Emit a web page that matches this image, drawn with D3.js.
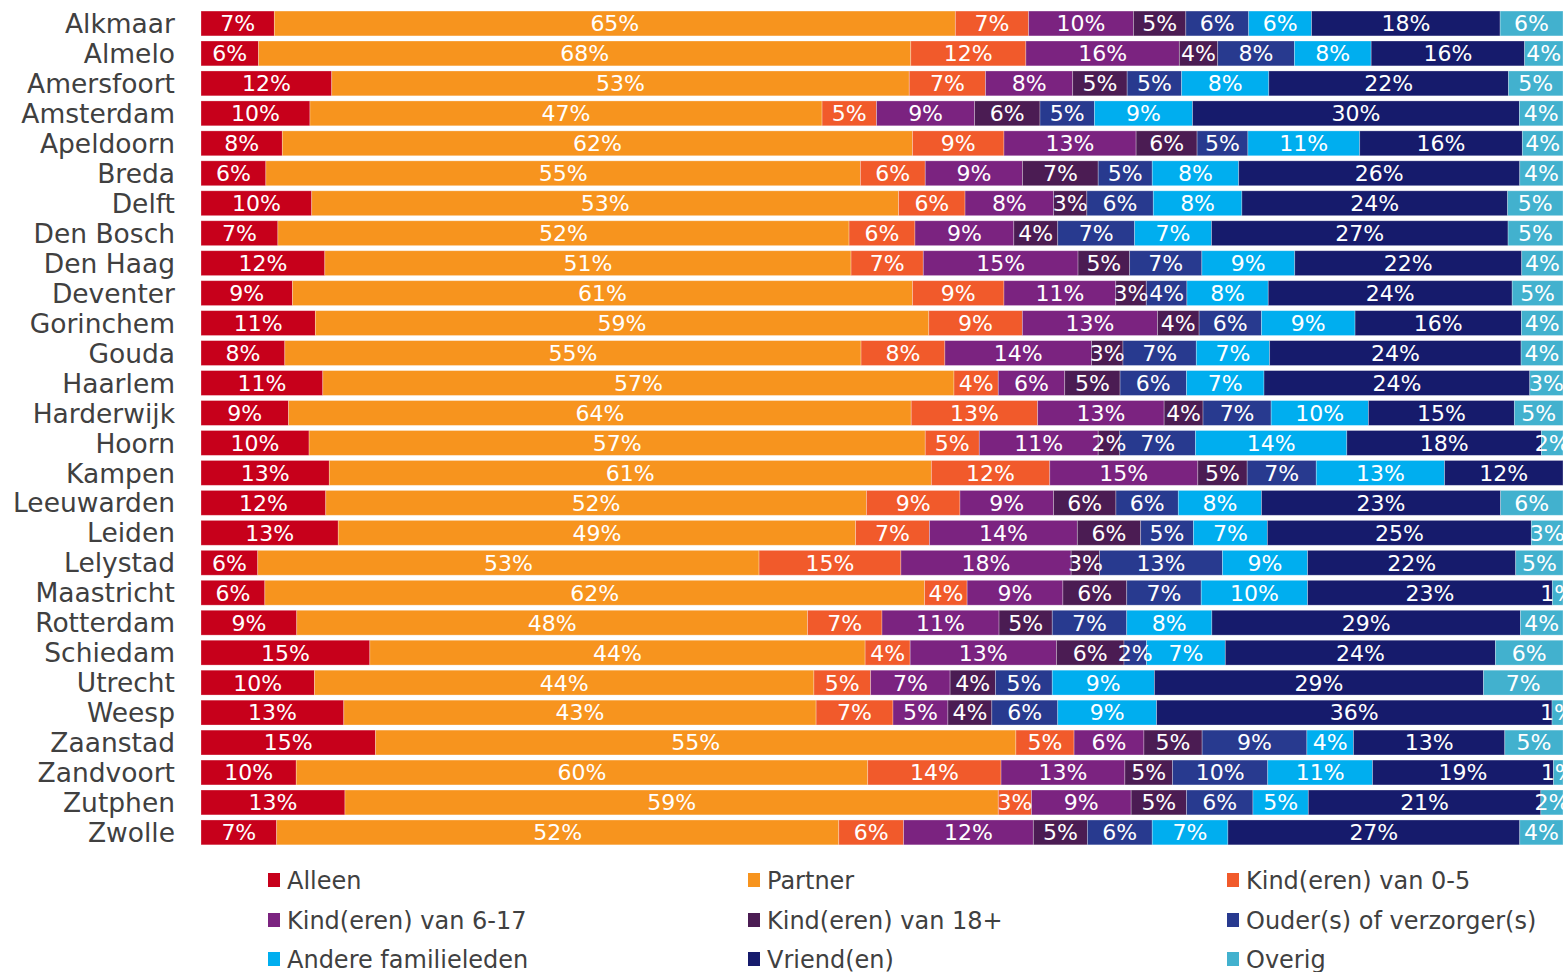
<!DOCTYPE html>
<html>
<head>
<meta charset="utf-8">
<script src="https://cdn.jsdelivr.net/npm/d3@7"></script>
<style>
  html, body { margin: 0; padding: 0; background: #fff; }
  svg { display: block; }
  text { font-family: "DejaVu Sans", Verdana, sans-serif; }
</style>
</head>
<body>
<svg id="chart" width="1563" height="972"></svg>
<script>
const cities = ["Alkmaar","Almelo","Amersfoort","Amsterdam","Apeldoorn","Breda","Delft","Den Bosch","Den Haag","Deventer","Gorinchem","Gouda","Haarlem","Harderwijk","Hoorn","Kampen","Leeuwarden","Leiden","Lelystad","Maastricht","Rotterdam","Schiedam","Utrecht","Weesp","Zaanstad","Zandvoort","Zutphen","Zwolle"];

const seriesNames = ["Alleen","Partner","Kind(eren) van 0-5","Kind(eren) van 6-17","Kind(eren) van 18+","Ouder(s) of verzorger(s)","Andere familieleden","Vriend(en)","Overig"];
const seriesColors = ["#c7001b","#f7941e","#f15a2b","#7b2380","#4b1c53","#283a8f","#00aeef","#161b6c","#42b1ce"];

const alleen   = [7,6,12,10,8,6,10,7,12,9,11,8,11,9,10,13,12,13,6,6,9,15,10,13,15,10,13,7];
const partner  = [65,68,53,47,62,55,53,52,51,61,59,55,57,64,57,61,52,49,53,62,48,44,44,43,55,60,59,52];
const kind05   = [7,12,7,5,9,6,6,6,7,9,9,8,4,13,5,12,9,7,15,4,7,4,5,7,5,14,3,6];
const kind617  = [10,16,8,9,13,9,8,9,15,11,13,14,6,13,11,15,9,14,18,9,11,13,7,5,6,13,9,12];
const kind18   = [5,4,5,6,6,7,3,4,5,3,4,3,5,4,2,5,6,6,3,6,5,6,4,4,5,5,5,5];
const ouder    = [6,8,5,5,5,5,6,7,7,4,6,7,6,7,7,7,6,5,13,7,7,2,5,6,9,10,6,6];
const andere   = [6,8,8,9,11,8,8,7,9,8,9,7,7,10,14,13,8,7,9,10,8,7,9,9,4,11,5,7];
const vriend   = [18,16,22,30,16,26,24,27,22,24,16,24,24,15,18,12,23,25,22,23,29,24,29,36,13,19,21,27];
const overig   = [6,4,5,4,4,4,5,5,4,5,4,4,3,5,2,0,6,3,5,1,4,6,7,1,5,1,2,4];

const seriesValues = [alleen, partner, kind05, kind617, kind18, ouder, andere, vriend, overig];

const rows = cities.map((c, i) => {
  const r = { city: c };
  seriesNames.forEach((s, j) => { r[s] = seriesValues[j][i]; });
  return r;
});

const svg = d3.select("#chart");

const x = d3.scaleLinear().domain([0, 1]).range([201, 1563]);
const y = d3.scaleBand().domain(cities).range([8.5, 847.4]).paddingInner(0.17).paddingOuter(0.085);
const color = d3.scaleOrdinal().domain(seriesNames).range(seriesColors);

const stack = d3.stack().keys(seriesNames).offset(d3.stackOffsetExpand);
const layers = stack(rows);

const g = svg.append("g");

const layerG = g.selectAll("g.layer").data(layers).join("g")
  .attr("class", "layer")
  .attr("fill", d => color(d.key));

layerG.selectAll("rect").data(d => d).join("rect")
  .attr("x", d => x(d[0]))
  .attr("y", d => y(d.data.city))
  .attr("width", d => Math.max(0, x(d[1]) - x(d[0])))
  .attr("height", y.bandwidth())
  .attr("stroke", "rgba(255,255,255,0.35)")
  .attr("stroke-width", 0.8);

// value labels
layers.forEach(layer => {
  g.append("g").selectAll("text").data(layer.filter(d => d.data[layer.key] > 0)).join("text")
    .attr("x", d => (x(d[0]) + x(d[1])) / 2)
    .attr("y", d => y(d.data.city) + y.bandwidth() / 2 + 7.9)
    .attr("text-anchor", "middle")
    .attr("fill", "#ffffff")
    .attr("font-size", 22)
    .text(d => d.data[layer.key] + "%");
});

// y axis labels
const yAxis = d3.axisLeft(y).tickSize(0).tickPadding(0);
const axisG = svg.append("g").attr("transform", "translate(175,0)").call(yAxis);
axisG.select(".domain").remove();
axisG.selectAll("text")
  .attr("font-family", "DejaVu Sans, Verdana, sans-serif")
  .attr("font-size", 26.5)
  .attr("fill", "#404040")
  .attr("dy", null)
  .attr("y", 9.6);

// legend
const legendCols = [268, 748, 1227];
const legendRows = [880, 920, 959];
const legend = svg.append("g").selectAll("g").data(seriesNames).join("g")
  .attr("transform", (d, i) => `translate(${legendCols[i % 3]},${legendRows[Math.floor(i / 3)]})`);
legend.append("rect")
  .attr("x", 0).attr("y", -7).attr("width", 12).attr("height", 14)
  .attr("fill", d => color(d));
legend.append("text")
  .attr("x", 19).attr("y", 8.6)
  .attr("font-size", 24)
  .attr("fill", "#404040")
  .text(d => d);
</script>
</body>
</html>
